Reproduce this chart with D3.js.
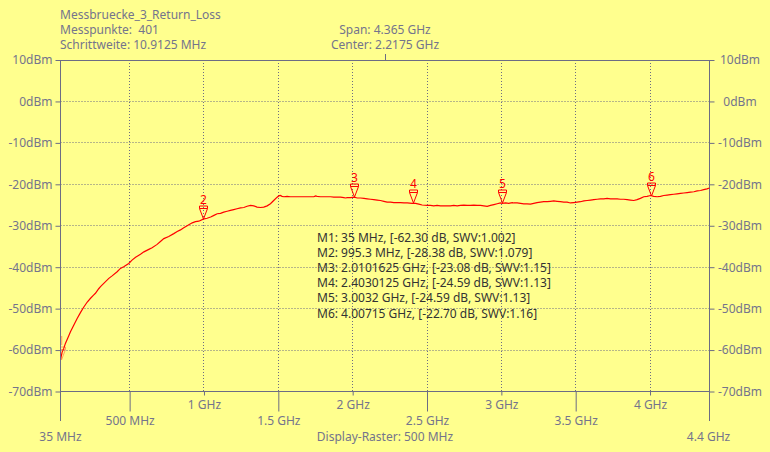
<!DOCTYPE html>
<html><head><meta charset="utf-8">
<script src="https://cdn.jsdelivr.net/npm/d3@7"></script>
<style>
body{margin:0;background:#ffff8e;}
svg{display:block;font-family:"Noto Sans",sans-serif;}
</style>
</head><body>
<svg id="c" width="770" height="452"></svg>
<script>
// ---------- data ----------
const headerLeft = ["Messbruecke_3_Return_Loss", "Messpunkte:  401", "Schrittweite: 10.9125 MHz"];
const headerCenter = ["Span: 4.365 GHz", "Center: 2.2175 GHz"];
const footerCenter = "Display-Raster: 500 MHz";
const xStartLabel = "35 MHz";
const xEndLabel = "4.4 GHz";

const freqMHz = [35,46,57,68,90,102,124,147,170,192,215,237,259,270,292,304,326,360,382,416,438,460,494,516,540,573,596,629,651,685,707,730,763,797,820,842,864,887,921,943,965,995,1021,1045,1067,1089,1111,1133,1156,1178,1200,1222,1246,1268,1290,1313,1335,1357,1380,1402,1425,1447,1469,1492,1503,1514,1525,1537,1559,1581,1604,1626,1649,1671,1693,1716,1739,1750,1761,1783,1806,1829,1851,1873,1896,1918,1941,1952,1963,1986,2010,2031,2053,2076,2098,2120,2142,2165,2187,2210,2232,2255,2277,2300,2322,2345,2367,2400,2423,2445,2467,2501,2523,2545,2568,2590,2613,2636,2658,2680,2703,2725,2748,2770,2792,2815,2837,2860,2882,2905,2927,2950,2972,2994,3006,3028,3050,3073,3084,3106,3129,3151,3173,3196,3218,3240,3263,3285,3308,3330,3353,3375,3397,3420,3442,3465,3487,3510,3532,3555,3577,3600,3622,3644,3667,3689,3711,3734,3756,3779,3801,3823,3846,3868,3891,3913,3935,3958,3980,4003,4025,4048,4070,4092,4115,4137,4160,4182,4205,4227,4250,4272,4295,4317,4340,4361,4383,4400];
const returnLossDb = [-62.3,-60.5,-59.6,-58.4,-56.6,-55.6,-54.0,-52.4,-50.9,-49.6,-48.4,-47.5,-46.7,-46.3,-45.2,-44.7,-43.9,-42.7,-42.1,-41.1,-40.3,-39.9,-39.1,-38.3,-37.6,-36.9,-36.3,-35.7,-35.3,-34.5,-33.8,-33.1,-32.6,-31.9,-31.4,-31.0,-30.5,-30.0,-29.3,-29.0,-28.9,-28.4,-28.2,-27.9,-27.5,-27.1,-27.0,-26.7,-26.5,-26.3,-26.1,-25.9,-25.7,-25.6,-25.3,-25.1,-25.2,-25.5,-25.6,-25.5,-25.2,-24.7,-23.9,-23.1,-22.8,-22.7,-22.9,-23.0,-22.9,-23.0,-23.0,-23.0,-23.0,-23.0,-23.0,-23.0,-23.0,-22.8,-22.9,-23.0,-23.0,-23.0,-23.0,-23.1,-23.1,-23.1,-23.2,-23.3,-23.2,-23.2,-23.1,-23.3,-23.3,-23.4,-23.5,-23.6,-23.7,-23.8,-23.9,-24.1,-24.3,-24.3,-24.4,-24.4,-24.4,-24.5,-24.5,-24.6,-24.6,-24.8,-25.0,-25.1,-25.1,-25.2,-25.1,-25.2,-25.2,-25.2,-25.2,-25.1,-25.2,-25.1,-25.0,-25.1,-25.1,-25.0,-25.1,-25.1,-25.2,-25.3,-25.1,-24.9,-24.7,-24.5,-24.6,-24.5,-24.6,-24.4,-24.5,-24.5,-24.6,-24.7,-24.7,-24.8,-24.6,-24.4,-24.3,-24.2,-24.2,-24.1,-24.0,-24.1,-24.2,-24.3,-24.3,-24.5,-24.4,-24.3,-24.2,-24.0,-23.9,-23.8,-23.7,-23.6,-23.5,-23.5,-23.4,-23.5,-23.5,-23.5,-23.6,-23.6,-23.7,-23.8,-23.9,-23.7,-23.4,-23.0,-22.9,-22.7,-22.9,-23.0,-22.9,-22.7,-22.6,-22.5,-22.4,-22.3,-22.2,-22.1,-22.0,-21.9,-21.8,-21.6,-21.5,-21.3,-21.1,-20.9];

const markerIds = [1, 2, 3, 4, 5, 6];
const markerFreqMHz = [35, 995.3, 2010.1625, 2403.0125, 3003.2, 4007.15];
const markerFreqLabels = ["35 MHz", "995.3 MHz", "2.0101625 GHz", "2.4030125 GHz", "3.0032 GHz", "4.00715 GHz"];
const markerDb = [-62.30, -28.38, -23.08, -24.59, -24.59, -22.70];
const markerSwv = ["1.002", "1.079", "1.15", "1.13", "1.13", "1.16"];

const yTicks = [10, 0, -10, -20, -30, -40, -50, -60, -70];
const xTicks = [500, 1000, 1500, 2000, 2500, 3000, 3500, 4000];
const xTickLabels = ["500 MHz", "1 GHz", "1.5 GHz", "2 GHz", "2.5 GHz", "3 GHz", "3.5 GHz", "4 GHz"];

// ---------- drawing ----------
const axisCol = "#6c6c84", textCol = "#74748c", red = "#ff0000";
const svg = d3.select("#c");
const x = d3.scaleLinear().domain([35, 4400]).range([60.5, 709.5]);
const y = d3.scaleLinear().domain([10, -70]).range([60, 391.5]);
const px = v => Math.round(v - 0.5) + 0.5;
const X0 = x.range()[0], X1 = x.range()[1], Y0 = y.range()[0], Y1 = y.range()[1];

// header
svg.append("g").selectAll("text").data(headerLeft).join("text")
  .attr("x", 60).attr("y", (d, i) => 19 + i * 15)
  .attr("fill", textCol).attr("font-size", 12).style("white-space", "pre").text(d => d);
svg.append("g").selectAll("text").data(headerCenter).join("text")
  .attr("x", 385).attr("y", (d, i) => 34 + i * 15).attr("text-anchor", "middle")
  .attr("fill", textCol).attr("font-size", 12).text(d => d);

// grid
const grid = svg.append("g").attr("stroke", axisCol).attr("stroke-width", 1).attr("stroke-dasharray", "1,2");
grid.selectAll("line.v").data(xTicks).join("line")
  .attr("x1", d => px(x(d))).attr("x2", d => px(x(d))).attr("y1", Y0).attr("y2", Y1);
grid.selectAll("line.h").data(yTicks.slice(1, -1)).join("line")
  .attr("x1", X0).attr("x2", X1).attr("y1", d => px(y(d))).attr("y2", d => px(y(d)));

// frame
const frame = svg.append("g").attr("stroke", axisCol).attr("stroke-width", 1);
frame.append("line").attr("x1", X0).attr("x2", X1).attr("y1", px(Y0)).attr("y2", px(Y0));
frame.append("line").attr("x1", X0).attr("x2", X1).attr("y1", px(Y1)).attr("y2", px(Y1));
frame.append("line").attr("x1", px(X0)).attr("x2", px(X0)).attr("y1", Y0).attr("y2", 421);
frame.append("line").attr("x1", px(X1)).attr("x2", px(X1)).attr("y1", Y0).attr("y2", 421);
frame.append("line").attr("x1", px(x(2217.5))).attr("x2", px(x(2217.5))).attr("y1", 54).attr("y2", Y0);

// y axes
const yl = svg.append("g").attr("transform", `translate(${px(X0)},0)`)
  .call(d3.axisLeft(y).tickValues(yTicks).tickSize(5).tickPadding(3).tickFormat(d => d + "dBm"));
const yr = svg.append("g").attr("transform", `translate(${px(X1)},0)`)
  .call(d3.axisRight(y).tickValues(yTicks).tickSize(5).tickFormat(d => d + "dBm"));
yr.selectAll(".tick text").attr("x", 30.5).attr("text-anchor", "middle");

// x axes (short ticks for whole GHz, long for half)
const oddIdx = xTicks.map((d, i) => i).filter(i => i % 2 === 1);
const evenIdx = xTicks.map((d, i) => i).filter(i => i % 2 === 0);
const xs = svg.append("g").attr("transform", `translate(0,${px(Y1)})`)
  .call(d3.axisBottom(x).tickValues(oddIdx.map(i => xTicks[i])).tickSize(4).tickPadding(5)
    .tickFormat(d => xTickLabels[xTicks.indexOf(d)]));
const xl = svg.append("g").attr("transform", `translate(0,${px(Y1)})`)
  .call(d3.axisBottom(x).tickValues(evenIdx.map(i => xTicks[i])).tickSize(20).tickPadding(5)
    .tickFormat(d => xTickLabels[xTicks.indexOf(d)]));

[yl, yr, xs, xl].forEach(g => {
  g.select(".domain").remove();
  g.selectAll(".tick line").attr("stroke", axisCol);
  g.selectAll(".tick text").attr("fill", textCol).attr("font-size", 12).attr("font-family", '"Noto Sans",sans-serif');
});

// edge labels and footer
svg.append("text").attr("x", x(35)).attr("y", 441).attr("text-anchor", "middle")
  .attr("fill", textCol).attr("font-size", 12).text(xStartLabel);
svg.append("text").attr("x", x(4400) - 1).attr("y", 441).attr("text-anchor", "middle")
  .attr("fill", textCol).attr("font-size", 12).text(xEndLabel);
svg.append("text").attr("x", 385).attr("y", 441).attr("text-anchor", "middle")
  .attr("fill", textCol).attr("font-size", 12).text(footerCenter);

// clip
svg.append("clipPath").attr("id", "plot").append("rect")
  .attr("x", X0 + 0.5).attr("y", 0).attr("width", X1 - X0).attr("height", Y1);

// trace
svg.append("path").datum(freqMHz.map((f, i) => [f, returnLossDb[i]]))
  .attr("clip-path", "url(#plot)")
  .attr("fill", "none").attr("stroke", red).attr("stroke-width", 1.2)
  .attr("d", d3.line().x(d => x(d[0])).y(d => y(d[1])));

// marker list
svg.append("g").selectAll("text").data(markerIds).join("text")
  .attr("x", 317).attr("y", (d, i) => 241.5 + i * 15.2)
  .attr("fill", "#333").attr("font-size", 12)
  .text((d, i) => `M${d}: ${markerFreqLabels[i]}, [${markerDb[i].toFixed(2)} dB, SWV:${markerSwv[i]}]`);

// markers
const mk = svg.append("g").attr("clip-path", "url(#plot)").selectAll("g").data(markerIds).join("g")
  .attr("transform", (d, i) => `translate(${Math.round(x(markerFreqMHz[i])) + 0.5},${Math.round(y(markerDb[i]))})`)
  .attr("opacity", (d, i) => i === 0 ? 0.35 : 1);
mk.append("path").attr("fill", "none").attr("stroke", red).attr("stroke-width", 1)
  .attr("d", "M-4,-13 H4 V-10.5 L0,0 L-4,-10.5 Z M-4,-10.5 H4");
mk.append("text").attr("x", 0).attr("y", -15).attr("text-anchor", "middle")
  .attr("fill", red).attr("font-size", 12).text(d => d);
</script>
</body></html>
